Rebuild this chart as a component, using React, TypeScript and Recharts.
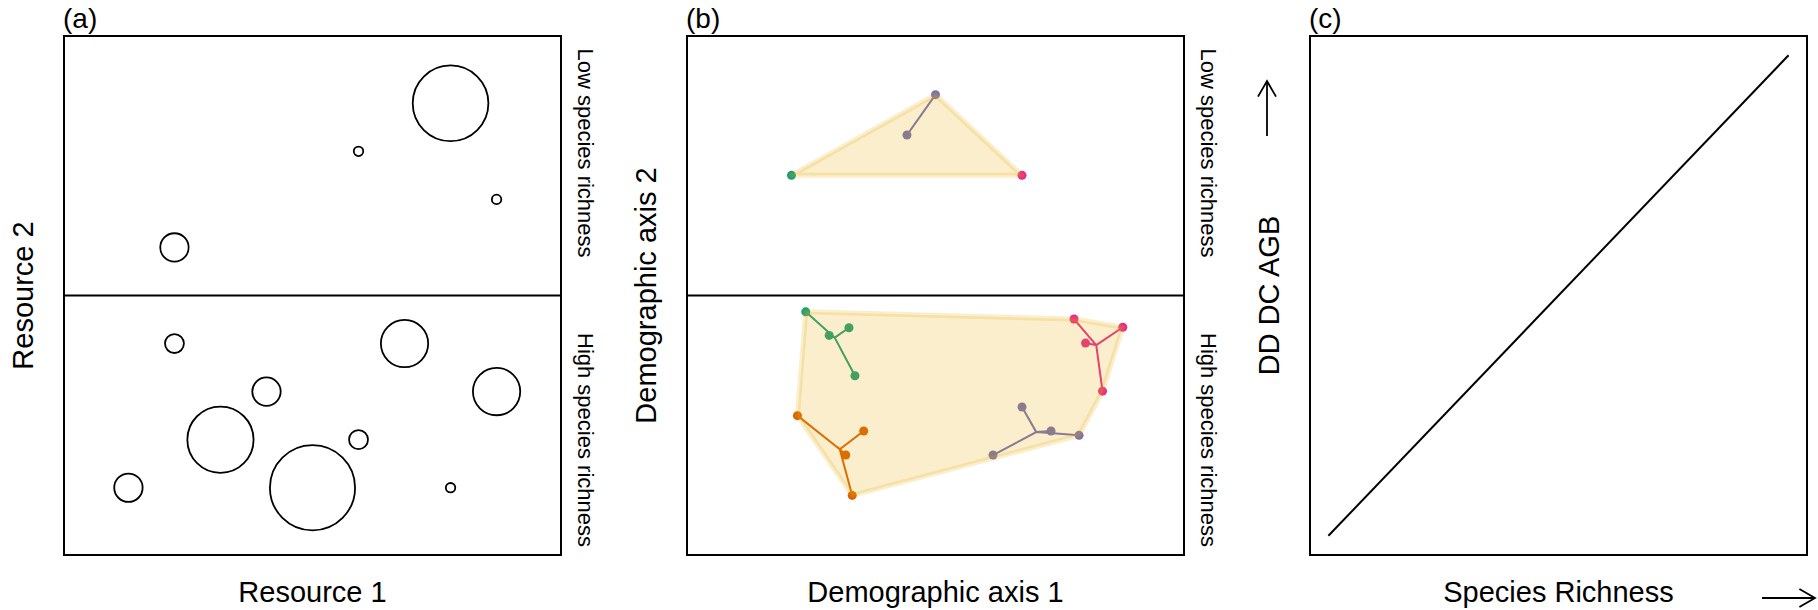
import React from 'react';
import { ScatterChart, Scatter, XAxis, YAxis, ReferenceArea, ReferenceLine } from 'recharts';

// ---------- shared ----------
const DOMAIN: [number, number] = [-0.4, 10.4];
const FONT = '"Liberation Sans", Arial, Helvetica, sans-serif';

// ---------- panel (a): resource space ----------
const resLowX = [8, 6, 9, 2];
const resLowY = [9, 8, 7, 6];
const resLowSize = [8, 1, 1, 3];
const resHighX = [2, 7, 4, 9, 3, 6, 1, 5, 8];
const resHighY = [4, 4, 3, 3, 2, 2, 1, 1, 1];
const resHighSize = [2, 5, 3, 5, 7, 2, 3, 9, 1];

// ---------- panel (b): demographic space ----------
const demoColors = { green: '#1B9E77', orange: '#D95F02', purple: '#7570B3', pink: '#E7298A' };
const hullColor = '#E6AB02';

const demoLowGreenX = [1.87];
const demoLowGreenY = [7.5];
const demoLowPurpleX = [5.0, 4.38];
const demoLowPurpleY = [9.18, 8.34];
const demoLowPinkX = [6.88];
const demoLowPinkY = [7.5];

const demoHighGreenX = [2.18, 2.69, 3.12, 3.25];
const demoHighGreenY = [4.66, 4.17, 4.33, 3.33];
const demoHighOrangeX = [2.0, 3.44, 3.05, 3.19];
const demoHighOrangeY = [2.5, 2.18, 1.68, 0.84];
const demoHighPurpleX = [6.88, 7.51, 8.12, 6.25];
const demoHighPurpleY = [2.68, 2.18, 2.09, 1.68];
const demoHighPinkX = [8.01, 9.07, 8.26, 8.63];
const demoHighPinkY = [4.51, 4.34, 4.01, 3.01];

// ---------- panel (c) ----------
const richnessX = [0, 10];
const ddAgbY = [0, 10];

// ---------- helpers ----------
type Pt = { x: number; y: number; size?: number; center?: boolean };

const toPts = (xs: number[], ys: number[], sizes?: number[]): Pt[] =>
  xs.map((x, i) => ({ x, y: ys[i], size: sizes ? sizes[i] : undefined }));

const mean = (a: number[]) => a.reduce((s, v) => s + v, 0) / a.length;

// spider: centroid -> each point (like vegan::ordispider)
const spiderData = (xs: number[], ys: number[]): Pt[] => {
  const cx = mean(xs);
  const cy = mean(ys);
  const out: Pt[] = [];
  xs.forEach((x, i) => {
    out.push({ x: cx, y: cy, center: true });
    out.push({ x, y: ys[i] });
  });
  return out;
};

// convex hull (monotone chain), like vegan::ordihull
const hull = (pts: Pt[]): Pt[] => {
  const p = [...pts].sort((a, b) => a.x - b.x || a.y - b.y);
  if (p.length < 3) return p;
  const cross = (o: Pt, a: Pt, b: Pt) => (a.x - o.x) * (b.y - o.y) - (a.y - o.y) * (b.x - o.x);
  const lower: Pt[] = [];
  for (const q of p) {
    while (lower.length >= 2 && cross(lower[lower.length - 2], lower[lower.length - 1], q) <= 0) lower.pop();
    lower.push(q);
  }
  const upper: Pt[] = [];
  for (let i = p.length - 1; i >= 0; i--) {
    const q = p[i];
    while (upper.length >= 2 && cross(upper[upper.length - 2], upper[upper.length - 1], q) <= 0) upper.pop();
    upper.push(q);
  }
  upper.pop();
  lower.pop();
  return lower.concat(upper);
};

const CIRCLE_UNIT = 4.73;
const ringShape = (props: any) => (
  <circle
    cx={props.cx}
    cy={props.cy}
    r={(props.payload?.size ?? 1) * CIRCLE_UNIT}
    fill="none"
    stroke="#000"
    strokeWidth={1.8}
  />
);

const dotShape = (color: string) => (props: any) =>
  props.payload?.center ? <g /> : <circle cx={props.cx} cy={props.cy} r={4.5} fill={color} />;

const emptyShape = () => <g />;

const hullLine = (props: any) => {
  const pts = (props.points || []) as { x: number; y: number }[];
  return (
    <polygon
      points={pts.map((q) => `${q.x},${q.y}`).join(' ')}
      fill={hullColor}
      fillOpacity={0.2}
      stroke={hullColor}
      strokeOpacity={0.2}
      strokeWidth={5}
      strokeLinejoin="round"
    />
  );
};

const PLOT_TOP = 36;
const PLOT_BOTTOM_MARGIN = 55;
const PLOT_LEFT = 64;

function Frame({ left, width, right, children, midline }: any) {
  return (
    <div style={{ position: 'absolute', left, top: 0 }}>
      <ScatterChart
        width={width}
        height={610}
        margin={{ top: PLOT_TOP, right, bottom: PLOT_BOTTOM_MARGIN, left: PLOT_LEFT }}
      >
        <XAxis type="number" dataKey="x" domain={DOMAIN} hide allowDataOverflow />
        <YAxis type="number" dataKey="y" domain={DOMAIN} hide allowDataOverflow />
        {children}
        {midline ? <ReferenceLine y={5} stroke="#000" strokeWidth={2} /> : null}
        <ReferenceArea
          x1={DOMAIN[0]}
          x2={DOMAIN[1]}
          y1={DOMAIN[0]}
          y2={DOMAIN[1]}
          fill="none"
          fillOpacity={0}
          stroke="#000"
          strokeWidth={2}
          ifOverflow="visible"
        />
      </ScatterChart>
    </div>
  );
}

type Group = { xs: number[]; ys: number[]; color: string };

const lowGroups: Group[] = [
  { xs: demoLowGreenX, ys: demoLowGreenY, color: demoColors.green },
  { xs: demoLowPurpleX, ys: demoLowPurpleY, color: demoColors.purple },
  { xs: demoLowPinkX, ys: demoLowPinkY, color: demoColors.pink },
];
const highGroups: Group[] = [
  { xs: demoHighGreenX, ys: demoHighGreenY, color: demoColors.green },
  { xs: demoHighOrangeX, ys: demoHighOrangeY, color: demoColors.orange },
  { xs: demoHighPurpleX, ys: demoHighPurpleY, color: demoColors.purple },
  { xs: demoHighPinkX, ys: demoHighPinkY, color: demoColors.pink },
];

const allPts = (groups: Group[]) => groups.flatMap((g) => toPts(g.xs, g.ys));

function Labels() {
  const t = { fontFamily: FONT, fill: '#000' } as const;
  const panels = [
    { off: 0, tag: '(a)', xl: 'Resource 1', yl: 'Resource 2', side: true },
    { off: 623, tag: '(b)', xl: 'Demographic axis 1', yl: 'Demographic axis 2', side: true },
    { off: 1246, tag: '(c)', xl: 'Species Richness', yl: 'DD DC AGB', side: false },
  ];
  const arrowStyle = { stroke: '#000', strokeWidth: 1.8, fill: 'none' } as const;
  return (
    <svg
      width={1818}
      height={610}
      style={{ position: 'absolute', left: 0, top: 0, pointerEvents: 'none' }}
    >
      {panels.map((p) => (
        <g key={p.tag}>
          <text {...t} x={p.off + 63} y={28} fontSize={28}>
            {p.tag}
          </text>
          <text {...t} x={p.off + 312.5} y={602} fontSize={29} textAnchor="middle">
            {p.xl}
          </text>
          <text
            {...t}
            fontSize={29}
            textAnchor="middle"
            transform={`translate(${p.off + 33},295.5) rotate(-90)`}
          >
            {p.yl}
          </text>
          {p.side ? (
            <>
              <text
                {...t}
                fontSize={22}
                textAnchor="middle"
                transform={`translate(${p.off + 578},153) rotate(90)`}
              >
                Low species richness
              </text>
              <text
                {...t}
                fontSize={22}
                textAnchor="middle"
                transform={`translate(${p.off + 578},440) rotate(90)`}
              >
                High species richness
              </text>
            </>
          ) : null}
        </g>
      ))}
      {/* arrows drawn in the margin (as R's arrows()) */}
      <g {...arrowStyle}>
        <line x1={1267} y1={136} x2={1267} y2={81} />
        <polyline points="1258,96.6 1267,81 1276,96.6" />
        <line x1={1762} y1={598} x2={1815} y2={598} />
        <polyline points="1799.4,589 1815,598 1799.4,607" />
      </g>
    </svg>
  );
}

export default function App() {
  const lowHull = hull(allPts(lowGroups));
  const highHull = hull(allPts(highGroups));
  return (
    <div
      style={{
        position: 'absolute',
        left: 0,
        top: 0,
        width: 1818,
        height: 610,
        overflow: 'hidden',
        background: '#fff',
      }}
    >
      {/* (a) */}
      <Frame left={0} width={622} right={61} midline>
        <Scatter
          data={toPts(resLowX, resLowY, resLowSize)}
          shape={ringShape}
          isAnimationActive={false}
        />
        <Scatter
          data={toPts(resHighX, resHighY, resHighSize)}
          shape={ringShape}
          isAnimationActive={false}
        />
      </Frame>

      {/* (b) */}
      <Frame left={623} width={622} right={61} midline>
        {[...lowGroups, ...highGroups].map((g, i) => (
          <Scatter
            key={`sp${i}`}
            data={spiderData(g.xs, g.ys)}
            line={{ stroke: g.color, strokeWidth: 2 }}
            lineType="joint"
            fill={g.color}
            shape={dotShape(g.color)}
            isAnimationActive={false}
          />
        ))}
        <Scatter data={lowHull} line={hullLine} shape={emptyShape} isAnimationActive={false} />
        <Scatter data={highHull} line={hullLine} shape={emptyShape} isAnimationActive={false} />
      </Frame>

      {/* (c) */}
      <Frame left={1246} width={572} right={11}>
        <Scatter
          data={toPts(richnessX, ddAgbY)}
          line={{ stroke: '#000', strokeWidth: 2 }}
          lineType="joint"
          shape={emptyShape}
          isAnimationActive={false}
        />
      </Frame>

      <Labels />
    </div>
  );
}
